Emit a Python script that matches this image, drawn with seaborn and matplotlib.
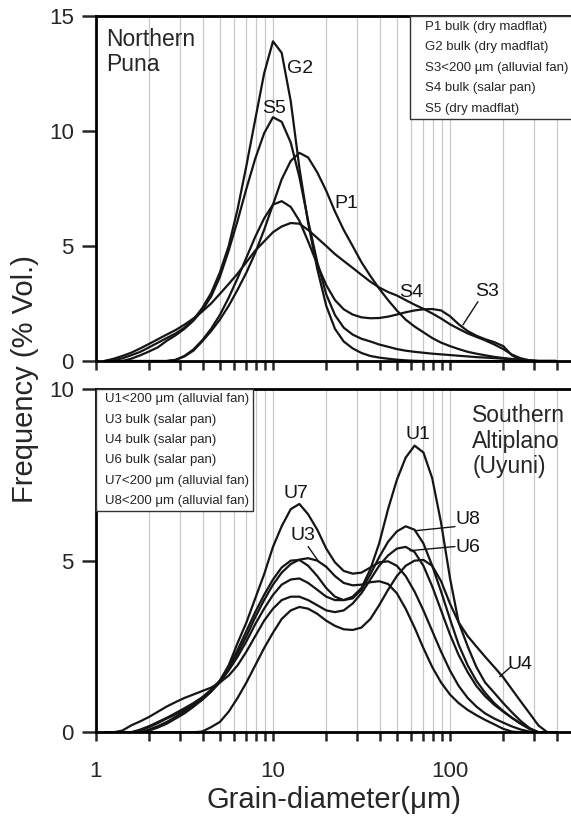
import numpy as np
import pandas as pd
import matplotlib
matplotlib.use("Agg")
import matplotlib.pyplot as plt
from matplotlib.lines import Line2D
from matplotlib.ticker import FixedLocator, FixedFormatter, NullFormatter
import seaborn as sns

# ---------------- data ----------------
sizes_um = [1.12, 1.26, 1.41, 1.58, 1.78, 2.00, 2.24, 2.51, 2.82, 3.16,
            3.55, 3.98, 4.47, 5.01, 5.62, 6.31, 7.08, 7.94, 8.91, 10.0,
            11.2, 12.6, 14.1, 15.8, 17.8, 20.0, 22.4, 25.1, 28.2, 31.6,
            35.5, 39.8, 44.7, 50.1, 56.2, 63.1, 70.8, 79.4, 89.1, 100,
            112, 126, 141, 158, 178, 200, 224, 251, 282, 316, 355, 398]

north_samples = ["P1", "G2", "S3", "S4", "S5"]
north_legend = ["P1 bulk (dry madflat)", "G2 bulk (dry madflat)",
                "S3<200 µm (alluvial fan)", "S4 bulk (salar pan)",
                "S5 (dry madflat)"]
P1 = [0, 0, 0, 0, 0, 0, 0, 0, 0.05, 0.2,
      0.45, 0.85, 1.3, 1.8, 2.4, 3.1, 3.85, 4.7, 5.7, 6.8,
      7.9, 8.7, 9.05, 8.85, 8.2, 7.4, 6.5, 5.7, 5.0, 4.3,
      3.7, 3.15, 2.65, 2.2, 1.8, 1.5, 1.25, 1.0, 0.8, 0.65,
      0.52, 0.4, 0.32, 0.25, 0.18, 0.13, 0.09, 0.05, 0.02, 0, 0, 0]
G2 = [0, 0.03, 0.12, 0.25, 0.4, 0.6, 0.8, 1.0, 1.2, 1.45,
      1.8, 2.3, 2.95, 3.85, 5.0, 6.6, 8.5, 10.5, 12.5, 13.9,
      13.4, 11.3, 8.4, 6.0, 4.0, 2.4, 1.4, 0.85, 0.55, 0.35,
      0.22, 0.15, 0.1, 0.06, 0.03, 0.01, 0, 0, 0, 0,
      0, 0, 0, 0, 0, 0, 0, 0, 0, 0, 0, 0]
S3 = [0, 0, 0, 0, 0, 0, 0, 0, 0.05, 0.22,
      0.5, 0.9, 1.4, 2.0, 2.75, 3.6, 4.5, 5.4, 6.2, 6.8,
      6.95, 6.7, 6.1, 5.2, 4.2, 3.3, 2.65, 2.25, 2.02, 1.9,
      1.86, 1.87, 1.93, 2.02, 2.12, 2.2, 2.25, 2.26, 2.2, 1.95,
      1.6, 1.3, 1.1, 0.95, 0.82, 0.65, 0.25, 0.05, 0, 0, 0, 0]
S4 = [0, 0.1, 0.22, 0.36, 0.55, 0.75, 0.95, 1.15, 1.35, 1.58,
      1.85, 2.15, 2.5, 2.92, 3.35, 3.8, 4.3, 4.8, 5.2, 5.6,
      5.85, 6.0, 5.97, 5.7, 5.35, 5.0, 4.65, 4.35, 4.05, 3.75,
      3.45, 3.2, 3.0, 2.85, 2.65, 2.45, 2.27, 2.07, 1.85, 1.6,
      1.4, 1.2, 1.05, 0.9, 0.72, 0.52, 0.28, 0.12, 0.03, 0, 0, 0]
S5 = [0, 0, 0, 0.1, 0.25, 0.42, 0.6, 0.88, 1.12, 1.4,
      1.75, 2.2, 2.8, 3.65, 4.8, 6.1, 7.5, 8.8, 9.9, 10.6,
      10.4, 9.5, 8.0, 6.1, 4.3, 2.9, 2.0, 1.45, 1.15, 0.97,
      0.85, 0.72, 0.62, 0.52, 0.45, 0.4, 0.36, 0.32, 0.29, 0.26,
      0.23, 0.2, 0.17, 0.15, 0.13, 0.1, 0.07, 0.04, 0.02, 0, 0, 0]

south_samples = ["U1", "U3", "U4", "U6", "U7", "U8"]
south_legend = ["U1<200 μm (alluvial fan)", "U3 bulk (salar pan)",
                "U4 bulk (salar pan)", "U6 bulk (salar pan)",
                "U7<200 μm (alluvial fan)", "U8<200 μm (alluvial fan)"]
U1 = [0, 0, 0, 0, 0.05, 0.15, 0.27, 0.4, 0.52, 0.65,
      0.8, 0.95, 1.18, 1.45, 1.8, 2.2, 2.65, 3.15, 3.6, 4.0,
      4.3, 4.45, 4.48, 4.35, 4.15, 3.95, 3.85, 3.85, 3.95, 4.2,
      4.75, 5.5, 6.5, 7.35, 8.0, 8.35, 8.15, 7.4, 6.1, 4.5,
      3.2, 2.5, 1.9, 1.45, 1.15, 0.85, 0.58, 0.33, 0.12, 0, 0, 0]
U3 = [0, 0, 0, 0, 0.08, 0.18, 0.3, 0.42, 0.56, 0.7,
      0.85, 1.02, 1.24, 1.5, 1.85, 2.3, 2.8, 3.35, 3.85, 4.3,
      4.65, 4.9, 5.03, 5.07, 5.0, 4.82, 4.55, 4.35, 4.28, 4.3,
      4.37, 4.4, 4.32, 4.05, 3.6, 3.05, 2.45, 1.9, 1.45, 1.1,
      0.85, 0.65, 0.5, 0.36, 0.23, 0.1, 0.02, 0, 0, 0, 0, 0]
U4 = [0, 0, 0, 0, 0, 0, 0, 0, 0, 0,
      0, 0.02, 0.15, 0.3, 0.6, 1.0, 1.45, 1.95, 2.45, 2.9,
      3.3, 3.55, 3.65, 3.6, 3.45, 3.25, 3.1, 3.0, 2.98, 3.05,
      3.3, 3.7, 4.15, 4.55, 4.85, 5.0, 5.02, 4.85, 4.4, 3.75,
      3.2, 2.8, 2.5, 2.2, 1.9, 1.6, 1.25, 0.9, 0.55, 0.2, 0, 0]
U6 = [0, 0, 0.05, 0.2, 0.32, 0.45, 0.6, 0.75, 0.88, 1.0,
      1.1, 1.2, 1.3, 1.45, 1.65, 1.95, 2.35, 2.8, 3.25, 3.6,
      3.85, 3.95, 3.95, 3.85, 3.7, 3.55, 3.5, 3.55, 3.75, 4.05,
      4.45, 4.85, 5.15, 5.35, 5.4, 5.25, 4.85, 4.25, 3.55, 2.85,
      2.25, 1.75, 1.35, 1.05, 0.8, 0.6, 0.42, 0.25, 0.1, 0, 0, 0]
U7 = [0, 0, 0, 0, 0, 0.05, 0.14, 0.25, 0.4, 0.55,
      0.74, 0.95, 1.2, 1.5, 1.95, 2.6, 3.2, 3.9, 4.6, 5.4,
      6.0, 6.5, 6.65, 6.35, 5.9, 5.35, 4.95, 4.7, 4.62, 4.65,
      4.8, 4.95, 4.98, 4.85, 4.55, 4.1, 3.55, 2.95, 2.35, 1.8,
      1.35, 1.0, 0.75, 0.55, 0.4, 0.28, 0.17, 0.08, 0.02, 0, 0, 0]
U8 = [0, 0, 0, 0, 0, 0.08, 0.18, 0.3, 0.45, 0.6,
      0.77, 0.95, 1.2, 1.5, 1.9, 2.4, 2.95, 3.5, 4.0, 4.45,
      4.8, 5.0, 5.02, 4.85, 4.55, 4.2, 3.95, 3.85, 3.9, 4.15,
      4.6, 5.1, 5.55, 5.85, 6.0, 5.9, 5.5, 4.85, 4.1, 3.3,
      2.55, 1.95, 1.5, 1.15, 0.85, 0.62, 0.42, 0.25, 0.1, 0, 0, 0]

north_values = {"P1": P1, "G2": G2, "S3": S3, "S4": S4, "S5": S5}
south_values = {"U1": U1, "U3": U3, "U4": U4, "U6": U6, "U7": U7, "U8": U8}

x_major = [1, 10, 100]
x_major_labels = ["1", "10", "100"]
north_yticks = [0, 5, 10, 15]
south_yticks = [0, 5, 10]


def long_table(values):
    rows = []
    for name, vals in values.items():
        for s, v in zip(sizes_um, vals):
            rows.append((name, s, v))
    return pd.DataFrame(rows, columns=["sample", "size", "freq"])


north_df = long_table(north_values)
south_df = long_table(south_values)

# ---------------- style ----------------
sns.set_style("white")
plt.rcParams["font.family"] = ["Liberation Sans", "DejaVu Sans"]
plt.rcParams["axes.linewidth"] = 2.0

fig = plt.figure(figsize=(5.71, 8.17), dpi=100)
ax1 = fig.add_axes([0.1681, 0.5581, 0.8319, 0.4223])
ax2 = fig.add_axes([0.1681, 0.1037, 0.8319, 0.4202])

minor_pos = [m * d for d in (1, 10, 100) for m in range(2, 10)]

for ax, df, samples, ylim, yt in ((ax1, north_df, north_samples, 15, north_yticks),
                                  (ax2, south_df, south_samples, 10, south_yticks)):
    sns.lineplot(data=df, x="size", y="freq", hue="sample", hue_order=samples,
                 palette=["#151515"] * len(samples), estimator=None, sort=False,
                 linewidth=1.6, legend=False, ax=ax, zorder=3)
    ax.set_xscale("log")
    ax.set_xlim(1, 483)
    ax.set_ylim(0, ylim)
    ax.xaxis.set_major_locator(FixedLocator(x_major))
    ax.xaxis.set_minor_locator(FixedLocator(minor_pos))
    ax.xaxis.set_minor_formatter(NullFormatter())
    ax.set_yticks(yt)
    ax.set_yticklabels([str(v) for v in yt])
    for xv in x_major + minor_pos:
        ax.axvline(xv, color="#c8c8c8", lw=0.9, zorder=1)
    ax.spines["right"].set_visible(False)
    for sp in ("top", "left", "bottom"):
        ax.spines[sp].set_linewidth(2.0)
        ax.spines[sp].set_color("black")
        ax.spines[sp].set_zorder(5)
    ax.tick_params(axis="y", which="major", direction="out", length=10, width=1.8,
                   labelsize=16, pad=6, left=True)
    ax.tick_params(axis="x", which="both", direction="out", length=6.5, width=1.8,
                   bottom=True, top=False, labelsize=16, pad=14)
    ax.set_xlabel("")
    ax.set_ylabel("")
    ax.patch.set_alpha(0)

ax1.xaxis.set_major_formatter(NullFormatter())
ax2.xaxis.set_major_formatter(FixedFormatter(x_major_labels))

# ---------------- legends ----------------
def text_legend(ax, labels, anchor, hl, bp):
    handles = [Line2D([], [], lw=0) for _ in labels]
    leg = ax.legend(handles, labels, loc="upper left", bbox_to_anchor=anchor,
                    handlelength=hl, handletextpad=0, borderpad=bp,
                    borderaxespad=0, labelspacing=0.62, fontsize=9.5,
                    frameon=True, fancybox=False, framealpha=1,
                    edgecolor="#333333")
    leg.get_frame().set_linewidth(1.0)
    leg.set_zorder(6)
    return leg

text_legend(ax1, north_legend, ((410 - 96) / 475, 1.0), 0.75, 0.35)
text_legend(ax2, south_legend, (0.0, 1.0), 0.35, 0.3)

# ---------------- annotations ----------------
lab = dict(fontsize=14, color="#151515", ha="center", va="center", zorder=7)
ax1.text(14.2, 12.7, "G2", **lab)
ax1.text(10.1, 11.0, "S5", **lab)
ax1.text(25.9, 6.83, "P1", **lab)
ax1.text(60.2, 3.0, "S4", **lab)
ax1.text(161.8, 3.04, "S3", **lab)
ax1.plot([143.9, 118.4], [2.58, 1.57], color="#151515", lw=1.0, zorder=7)

ax2.text(13.5, 6.95, "U7", **lab)
ax2.text(14.8, 5.72, "U3", **lab)
ax2.plot([15.8, 18.2], [5.41, 4.96], color="#151515", lw=1.0, zorder=7)
ax2.text(66.0, 8.67, "U1", **lab)
ax2.text(126.0, 6.19, "U8", **lab)
ax2.plot([63.4, 106.7], [5.87, 5.99], color="#151515", lw=1.0, zorder=7)
ax2.text(126.0, 5.37, "U6", **lab)
ax2.plot([59.4, 106.7], [5.29, 5.41], color="#151515", lw=1.0, zorder=7)
ax2.text(248.0, 1.97, "U4", **lab)
ax2.plot([191.0, 221.0], [1.62, 1.91], color="#151515", lw=1.0, zorder=7)

ax1.text(0.021, 0.965, "Northern\nPuna", transform=ax1.transAxes, fontsize=16.5,
         ha="left", va="top", linespacing=1.1, zorder=7)
ax2.text(0.792, 0.955, "Southern\nAltiplano\n(Uyuni)", transform=ax2.transAxes,
         fontsize=16.5, ha="left", va="top", linespacing=1.12, zorder=7)

fig.text(25 / 571, 1 - 379 / 817, "Frequency (% Vol.)", rotation=90,
         ha="center", va="center", fontsize=21)
ax2.set_xlabel("Grain-diameter(μm)", fontsize=21, labelpad=3)

fig.savefig("out.png", dpi=100)
